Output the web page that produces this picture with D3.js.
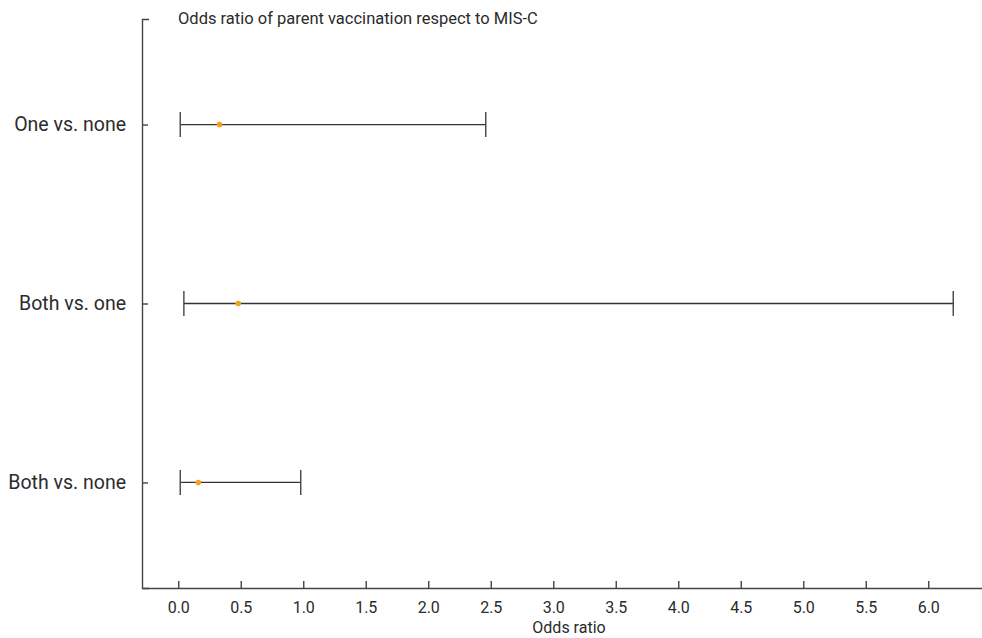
<!DOCTYPE html>
<html>
<head>
<meta charset="utf-8">
<script src="https://cdn.jsdelivr.net/npm/d3@7"></script>
<style>
  body { margin: 0; background: #fff; }
  text { font-family: Roboto, "Liberation Sans", sans-serif; fill: #2b2b2b; }
</style>
</head>
<body>
<script>
// comparisons, top to bottom
const groups = ["One vs. none", "Both vs. one", "Both vs. none"];
const oddsRatio = [0.33, 0.48, 0.16];
const ciLow = [0.016, 0.045, 0.016];
const ciHigh = [2.46, 6.2, 0.98];
const xTicks = [0, 0.5, 1, 1.5, 2, 2.5, 3, 3.5, 4, 4.5, 5, 5.5, 6];

const width = 982, height = 638;
const plotLeft = 142, plotRight = 982, plotTop = 19, plotBottom = 588;

const svg = d3.select("body").append("svg")
  .attr("width", width)
  .attr("height", height);

const x = d3.scaleLinear().domain([-0.29, 6.43]).range([plotLeft, plotRight]);
const y = d3.scalePoint().domain(groups).range([plotTop, plotBottom]).padding(0.59);

// x axis, ticks point inward
const xAxis = svg.append("g")
  .attr("transform", `translate(0,${plotBottom})`)
  .call(d3.axisBottom(x).tickValues(xTicks).tickFormat(d3.format(".1f"))
    .tickSizeInner(-7).tickSizeOuter(0).tickPadding(14));
xAxis.selectAll("text").style("font-size", "16px");

// y axis
const yAxis = svg.append("g")
  .attr("transform", `translate(${plotLeft},0)`)
  .call(d3.axisLeft(y).tickSizeInner(-6).tickSizeOuter(-7).tickPadding(16));
yAxis.selectAll("text").style("font-size", "19.5px");

svg.selectAll(".domain, .tick line").attr("stroke", "#444").attr("stroke-width", 1.4);

// confidence intervals
const rows = groups.map((g, i) => ({ g, or: oddsRatio[i], lo: ciLow[i], hi: ciHigh[i] }));
const bars = svg.append("g").selectAll("g").data(rows).join("g");
bars.append("line")
  .attr("x1", d => x(d.lo)).attr("x2", d => x(d.hi))
  .attr("y1", d => y(d.g)).attr("y2", d => y(d.g))
  .attr("stroke", "#333").attr("stroke-width", 1.3);
bars.selectAll(".cap").data(d => [d.lo, d.hi].map(v => ({ v, g: d.g }))).join("line")
  .attr("class", "cap")
  .attr("x1", d => x(d.v)).attr("x2", d => x(d.v))
  .attr("y1", d => y(d.g) - 12.5).attr("y2", d => y(d.g) + 12.5)
  .attr("stroke", "#444").attr("stroke-width", 1.4);
bars.append("circle")
  .attr("cx", d => x(d.or)).attr("cy", d => y(d.g))
  .attr("r", 2.8).attr("fill", "#f7a11a");

// titles
svg.append("text")
  .attr("x", 178).attr("y", 24)
  .style("font-size", "16.5px")
  .text("Odds ratio of parent vaccination respect to MIS-C");

svg.append("text")
  .attr("x", 569).attr("y", 633)
  .attr("text-anchor", "middle")
  .style("font-size", "16px")
  .text("Odds ratio");
</script>
</body>
</html>
